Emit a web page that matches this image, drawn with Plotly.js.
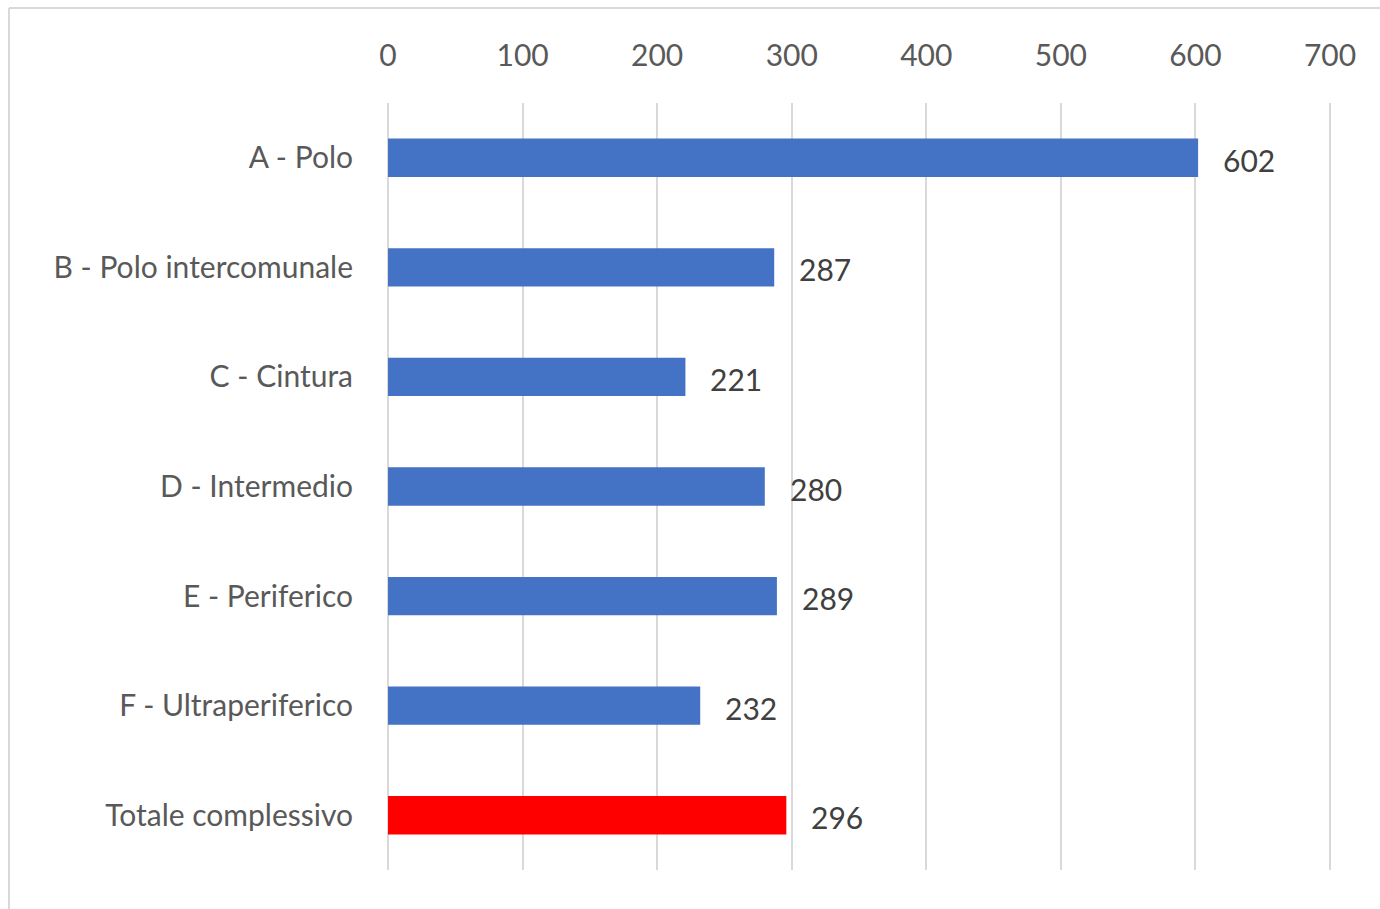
<!DOCTYPE html>
<html>
<head>
<meta charset="utf-8">
<script src="https://cdn.plot.ly/plotly-3.0.1.min.js"></script>
<style>
html,body{margin:0;padding:0;background:#fff;}
#chart{width:1380px;height:909px;}
</style>
</head>
<body>
<div id="chart"></div>
<script>
const categories = ["A - Polo","B - Polo intercomunale","C - Cintura","D - Intermedio","E - Periferico","F - Ultraperiferico","Totale complessivo"];
const values = [602, 287, 221, 280, 289, 232, 296];
const barColors = ["#4472C4","#4472C4","#4472C4","#4472C4","#4472C4","#4472C4","#FF0000"];
const tickValues = [0,100,200,300,400,500,600,700];

const font = "Lato, 'Open Sans', sans-serif";

const trace = {
  type: "bar",
  orientation: "h",
  y: categories,
  x: values,
  marker: {color: barColors, line: {width: 0}},
  hoverinfo: "x+y"
};

const annotations = categories.map((c, i) => ({
  x: values[i], y: c, xref: "x", yref: "y",
  text: String(values[i]), showarrow: false,
  xanchor: "left", yanchor: "middle", xshift: 23, yshift: -2,
  font: {family: font, size: 30, color: "#404040"}
}));

const L = 386, R = 48, T = 103, B = 39;
const W = 1380 - L - R, H = 909 - T - B;

const layout = {
  width: 1380, height: 909,
  margin: {l: L, r: R, t: T, b: B, pad: 0},
  paper_bgcolor: "#fff", plot_bgcolor: "#fff",
  bargap: 0.65,
  showlegend: false,
  xaxis: {
    side: "top", range: [-1.5, 701.5], tickvals: tickValues,
    showgrid: true, gridcolor: "#d9d9d9", gridwidth: 2,
    zeroline: false, showline: false, ticks: "",
    ticklabelstandoff: 30,
    tickfont: {family: font, size: 30, color: "#595959"},
    fixedrange: true
  },
  yaxis: {
    autorange: "reversed", showgrid: false, zeroline: false, showline: false,
    ticks: "", ticklabelstandoff: 32,
    tickfont: {family: font, size: 30, color: "#595959"},
    fixedrange: true
  },
  annotations: annotations,
  shapes: [
    {type: "line", xref: "paper", yref: "paper",
     x0: (9-L)/W, x1: (1380-L)/W, y0: (909-B-8)/H, y1: (909-B-8)/H,
     line: {color: "#d9d9d9", width: 2}},
    {type: "line", xref: "paper", yref: "paper",
     x0: (9-L)/W, x1: (9-L)/W, y0: (909-B-8)/H, y1: -B/H,
     line: {color: "#d9d9d9", width: 2}}
  ]
};

Plotly.newPlot("chart", [trace], layout, {displayModeBar: false, staticPlot: true});
</script>
</body>
</html>
